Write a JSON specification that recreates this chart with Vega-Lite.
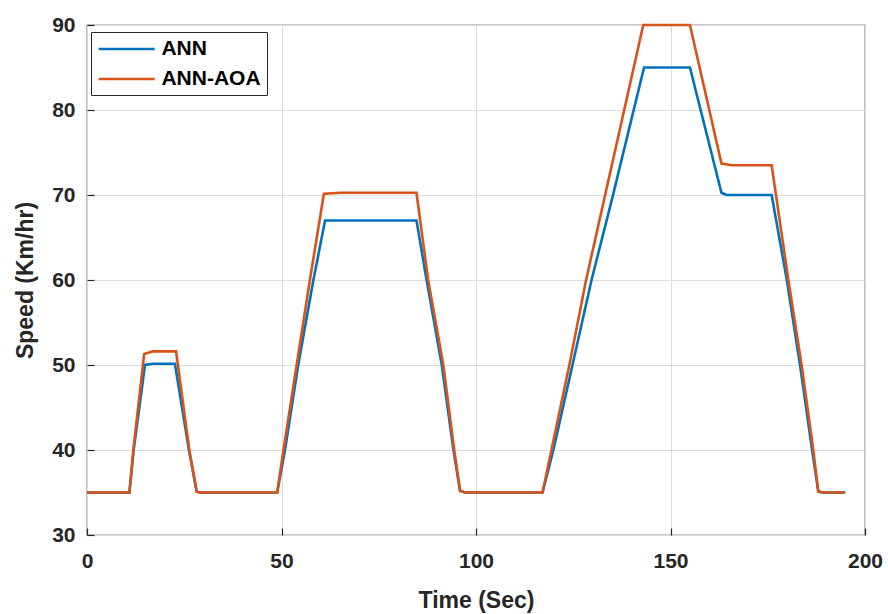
{
  "$schema": "https://vega.github.io/schema/vega-lite/v6.json",
  "width": 778,
  "height": 510,
  "autosize": {"type": "none"},
  "padding": {"left": 87, "top": 25, "right": 23, "bottom": 79},
  "background": "white",
  "config": {
    "view": {"stroke": "#262626", "strokeWidth": 1.2},
    "font": "Liberation Sans",
    "axis": {
      "domain": false,
      "gridColor": "#dcdcdc",
      "gridWidth": 1,
      "tickColor": "#262626",
      "tickSize": -7,
      "tickWidth": 1.2,
      "labelFont": "Liberation Sans",
      "labelFontWeight": "bold",
      "labelFontSize": 21,
      "labelColor": "#262626",
      "titleFont": "Liberation Sans",
      "titleFontWeight": "bold",
      "titleFontSize": 23,
      "titleColor": "#262626"
    }
  },
  "data": {
    "values": [
      {"t": 0, "v": 35, "s": "ANN"},
      {"t": 10.9, "v": 35, "s": "ANN"},
      {"t": 12, "v": 40, "s": "ANN"},
      {"t": 14.9, "v": 50, "s": "ANN"},
      {"t": 16.9, "v": 50.15, "s": "ANN"},
      {"t": 22.6, "v": 50.15, "s": "ANN"},
      {"t": 26.2, "v": 40, "s": "ANN"},
      {"t": 28.2, "v": 35.1, "s": "ANN"},
      {"t": 29, "v": 35, "s": "ANN"},
      {"t": 48.9, "v": 35, "s": "ANN"},
      {"t": 50.9, "v": 40, "s": "ANN"},
      {"t": 54.3, "v": 50, "s": "ANN"},
      {"t": 58.2, "v": 60, "s": "ANN"},
      {"t": 61.2, "v": 67, "s": "ANN"},
      {"t": 84.7, "v": 67, "s": "ANN"},
      {"t": 87.3, "v": 60, "s": "ANN"},
      {"t": 91.2, "v": 50, "s": "ANN"},
      {"t": 94.2, "v": 40, "s": "ANN"},
      {"t": 95.9, "v": 35.2, "s": "ANN"},
      {"t": 97.2, "v": 35, "s": "ANN"},
      {"t": 117.1, "v": 35, "s": "ANN"},
      {"t": 119.9, "v": 40, "s": "ANN"},
      {"t": 124.8, "v": 50, "s": "ANN"},
      {"t": 129.7, "v": 60, "s": "ANN"},
      {"t": 134.9, "v": 69.4, "s": "ANN"},
      {"t": 143.2, "v": 85, "s": "ANN"},
      {"t": 155, "v": 85, "s": "ANN"},
      {"t": 163.1, "v": 70.27, "s": "ANN"},
      {"t": 164.4, "v": 70, "s": "ANN"},
      {"t": 176, "v": 70, "s": "ANN"},
      {"t": 179.9, "v": 60, "s": "ANN"},
      {"t": 183.3, "v": 50, "s": "ANN"},
      {"t": 186.4, "v": 40, "s": "ANN"},
      {"t": 188, "v": 35.1, "s": "ANN"},
      {"t": 189.3, "v": 35, "s": "ANN"},
      {"t": 194.9, "v": 35, "s": "ANN"},
      {"t": 0, "v": 35, "s": "ANN-AOA"},
      {"t": 10.9, "v": 35, "s": "ANN-AOA"},
      {"t": 11.9, "v": 40, "s": "ANN-AOA"},
      {"t": 14.7, "v": 51.3, "s": "ANN-AOA"},
      {"t": 16.9, "v": 51.6, "s": "ANN-AOA"},
      {"t": 22.9, "v": 51.6, "s": "ANN-AOA"},
      {"t": 26.3, "v": 40, "s": "ANN-AOA"},
      {"t": 28.2, "v": 35.1, "s": "ANN-AOA"},
      {"t": 29, "v": 35, "s": "ANN-AOA"},
      {"t": 48.9, "v": 35, "s": "ANN-AOA"},
      {"t": 50.5, "v": 40, "s": "ANN-AOA"},
      {"t": 53.9, "v": 50, "s": "ANN-AOA"},
      {"t": 57.3, "v": 60, "s": "ANN-AOA"},
      {"t": 60.9, "v": 70.15, "s": "ANN-AOA"},
      {"t": 65.2, "v": 70.27, "s": "ANN-AOA"},
      {"t": 84.7, "v": 70.27, "s": "ANN-AOA"},
      {"t": 87.7, "v": 60, "s": "ANN-AOA"},
      {"t": 91.6, "v": 50, "s": "ANN-AOA"},
      {"t": 94.4, "v": 40, "s": "ANN-AOA"},
      {"t": 95.9, "v": 35.2, "s": "ANN-AOA"},
      {"t": 97.2, "v": 35, "s": "ANN-AOA"},
      {"t": 117.1, "v": 35, "s": "ANN-AOA"},
      {"t": 119.4, "v": 40, "s": "ANN-AOA"},
      {"t": 124, "v": 50, "s": "ANN-AOA"},
      {"t": 128.3, "v": 60, "s": "ANN-AOA"},
      {"t": 132.9, "v": 69.4, "s": "ANN-AOA"},
      {"t": 143, "v": 90, "s": "ANN-AOA"},
      {"t": 155, "v": 90, "s": "ANN-AOA"},
      {"t": 163.1, "v": 73.7, "s": "ANN-AOA"},
      {"t": 165.7, "v": 73.5, "s": "ANN-AOA"},
      {"t": 176, "v": 73.5, "s": "ANN-AOA"},
      {"t": 180.3, "v": 60, "s": "ANN-AOA"},
      {"t": 183.7, "v": 50, "s": "ANN-AOA"},
      {"t": 186.7, "v": 40, "s": "ANN-AOA"},
      {"t": 188, "v": 35.1, "s": "ANN-AOA"},
      {"t": 189.3, "v": 35, "s": "ANN-AOA"},
      {"t": 194.9, "v": 35, "s": "ANN-AOA"}
    ]
  },
  "mark": {"type": "line", "strokeWidth": 2.6, "clip": false},
  "encoding": {
    "x": {
      "field": "t",
      "type": "quantitative",
      "scale": {"domain": [0, 200], "nice": false, "zero": false},
      "axis": {"values": [0, 50, 100, 150, 200], "title": "Time (Sec)", "labelPadding": 22, "titlePadding": 18, "labelFlush": false}
    },
    "y": {
      "field": "v",
      "type": "quantitative",
      "scale": {"domain": [30, 90], "nice": false, "zero": false},
      "axis": {"values": [30, 40, 50, 60, 70, 80, 90], "title": "Speed (Km/hr)", "labelPadding": 19, "titlePadding": 14, "labelFlush": false}
    },
    "color": {
      "field": "s",
      "type": "nominal",
      "scale": {"domain": ["ANN", "ANN-AOA"], "range": ["#0072BD", "#D95319"]},
      "legend": {
        "title": null,
        "orient": "none",
        "legendX": 4,
        "legendY": 7,
        "fillColor": "white",
        "strokeColor": "#262626",
        "padding": 6,
        "symbolType": "M-3,0H3",
        "symbolSize": 348,
        "symbolOffset": 18.7,
        "symbolStrokeWidth": 2.6,
        "symbolFillColor": "transparent",
        "labelFont": "Liberation Sans",
        "labelFontWeight": "bold",
        "labelFontSize": 21,
        "labelColor": "#000000",
        "labelOffset": 23.7,
        "rowPadding": 9
      }
    }
  }
}
